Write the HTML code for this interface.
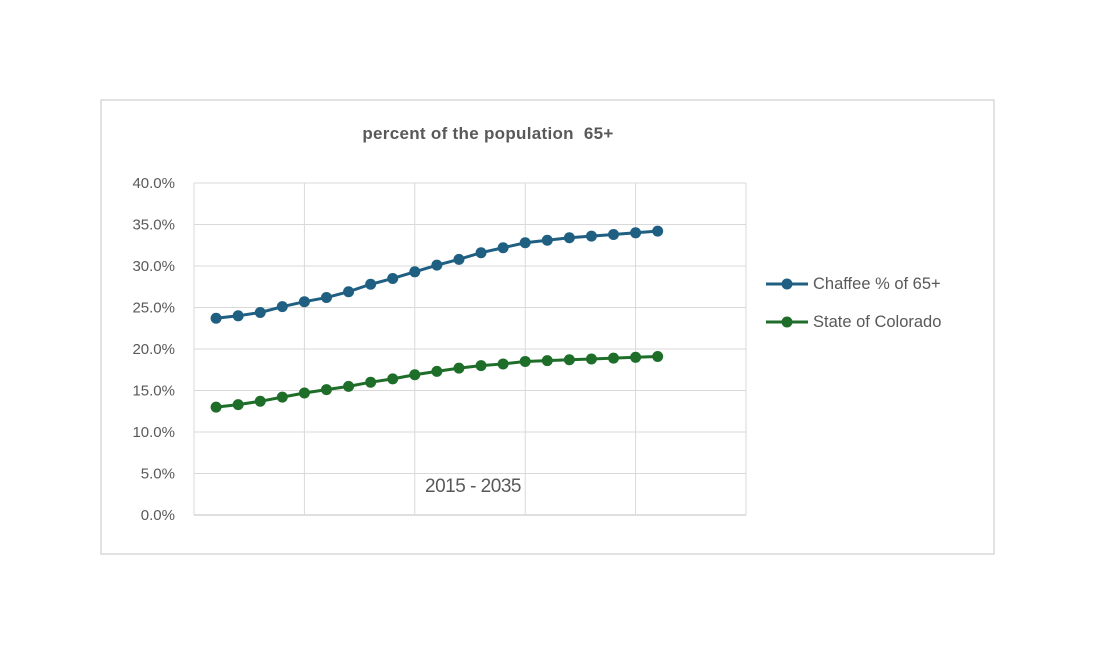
<!DOCTYPE html>
<html><head><meta charset="utf-8"><style>
body{margin:0;background:#fff;width:1094px;height:656px;overflow:hidden;font-family:"Liberation Sans",sans-serif;}
</style></head><body>
<svg width="1094" height="656">
<rect x="101" y="100" width="893" height="454" fill="#fff" stroke="#d9d9d9" stroke-width="1.5"/>
<text x="488" y="139" text-anchor="middle" font-size="17" font-weight="bold" fill="#595959" letter-spacing="0.3" xml:space="preserve">percent of the population  65+</text>
<g id="grid"></g>
<g id="ylabels"></g>
<text x="473" y="492" text-anchor="middle" font-size="19" fill="#595959" letter-spacing="-0.5">2015 - 2035</text>
<g id="series"></g>
<g>
<g><line x1="766" y1="284" x2="808" y2="284" stroke="#1f5f82" stroke-width="3"/><circle cx="787" cy="284" r="5.5" fill="#1f5f82"/><text x="813" y="289" font-size="16.5" fill="#595959">Chaffee % of 65+</text></g>
<g><line x1="766" y1="322" x2="808" y2="322" stroke="#1e6e2a" stroke-width="3"/><circle cx="787" cy="322" r="5.5" fill="#1e6e2a"/><text x="813" y="327" font-size="16.5" fill="#595959">State of Colorado</text></g>
</g>
</svg>
<script>
const years=[2015,2016,2017,2018,2019,2020,2021,2022,2023,2024,2025,2026,2027,2028,2029,2030,2031,2032,2033,2034,2035];
const chaffee=[23.7,24.0,24.4,25.1,25.7,26.2,26.9,27.8,28.5,29.3,30.1,30.8,31.6,32.2,32.8,33.1,33.4,33.6,33.8,34.0,34.2];
const colorado=[13.0,13.3,13.7,14.2,14.7,15.1,15.5,16.0,16.4,16.9,17.3,17.7,18.0,18.2,18.5,18.6,18.7,18.8,18.9,19.0,19.1];
const yTicks=[0,5,10,15,20,25,30,35,40];
const NS='http://www.w3.org/2000/svg';
const X0=194,X1=746,Y0=515,Y1=183,slots=25;
const xs=i=>X0+(i+1)*(X1-X0)/slots;
const ys=v=>Y0-(v/40)*(Y0-Y1);
function mk(t,a,p){const e=document.createElementNS(NS,t);for(const k in a)e.setAttribute(k,a[k]);p.appendChild(e);return e;}
const grid=document.getElementById('grid'),yl=document.getElementById('ylabels'),sg=document.getElementById('series');
yTicks.forEach(v=>{
 const l=mk('line',{x1:X0,x2:X1,y1:ys(v),y2:ys(v),stroke:v===0?'#bfbfbf':'#d9d9d9','stroke-width':1},grid);
 
 
 const t=mk('text',{x:175,y:ys(v)+5,'text-anchor':'end','font-size':15,fill:'#595959'},yl);
 t.textContent=v.toFixed(1)+'%';
 
 
});
for(let k=0;k<=5;k++){const x=X0+k*(X1-X0)/5;
 const l=mk('line',{x1:x,x2:x,y1:Y1,y2:Y0,stroke:'#d9d9d9','stroke-width':1},grid);
 
 
}
function draw(vals,color,name){
 const g=mk('g',{},sg);
 
 
 const pl=mk('polyline',{points:vals.map((v,i)=>xs(i)+','+ys(v)).join(' '),fill:'none',stroke:color,'stroke-width':3},g);
 
 
 vals.forEach((v,i)=>{const c=mk('circle',{cx:xs(i),cy:ys(v),r:5.5,fill:color},g);
  
  });
}
draw(chaffee,'#1f5f82','chaffee');
draw(colorado,'#1e6e2a','colorado');
</script>
</body></html>
